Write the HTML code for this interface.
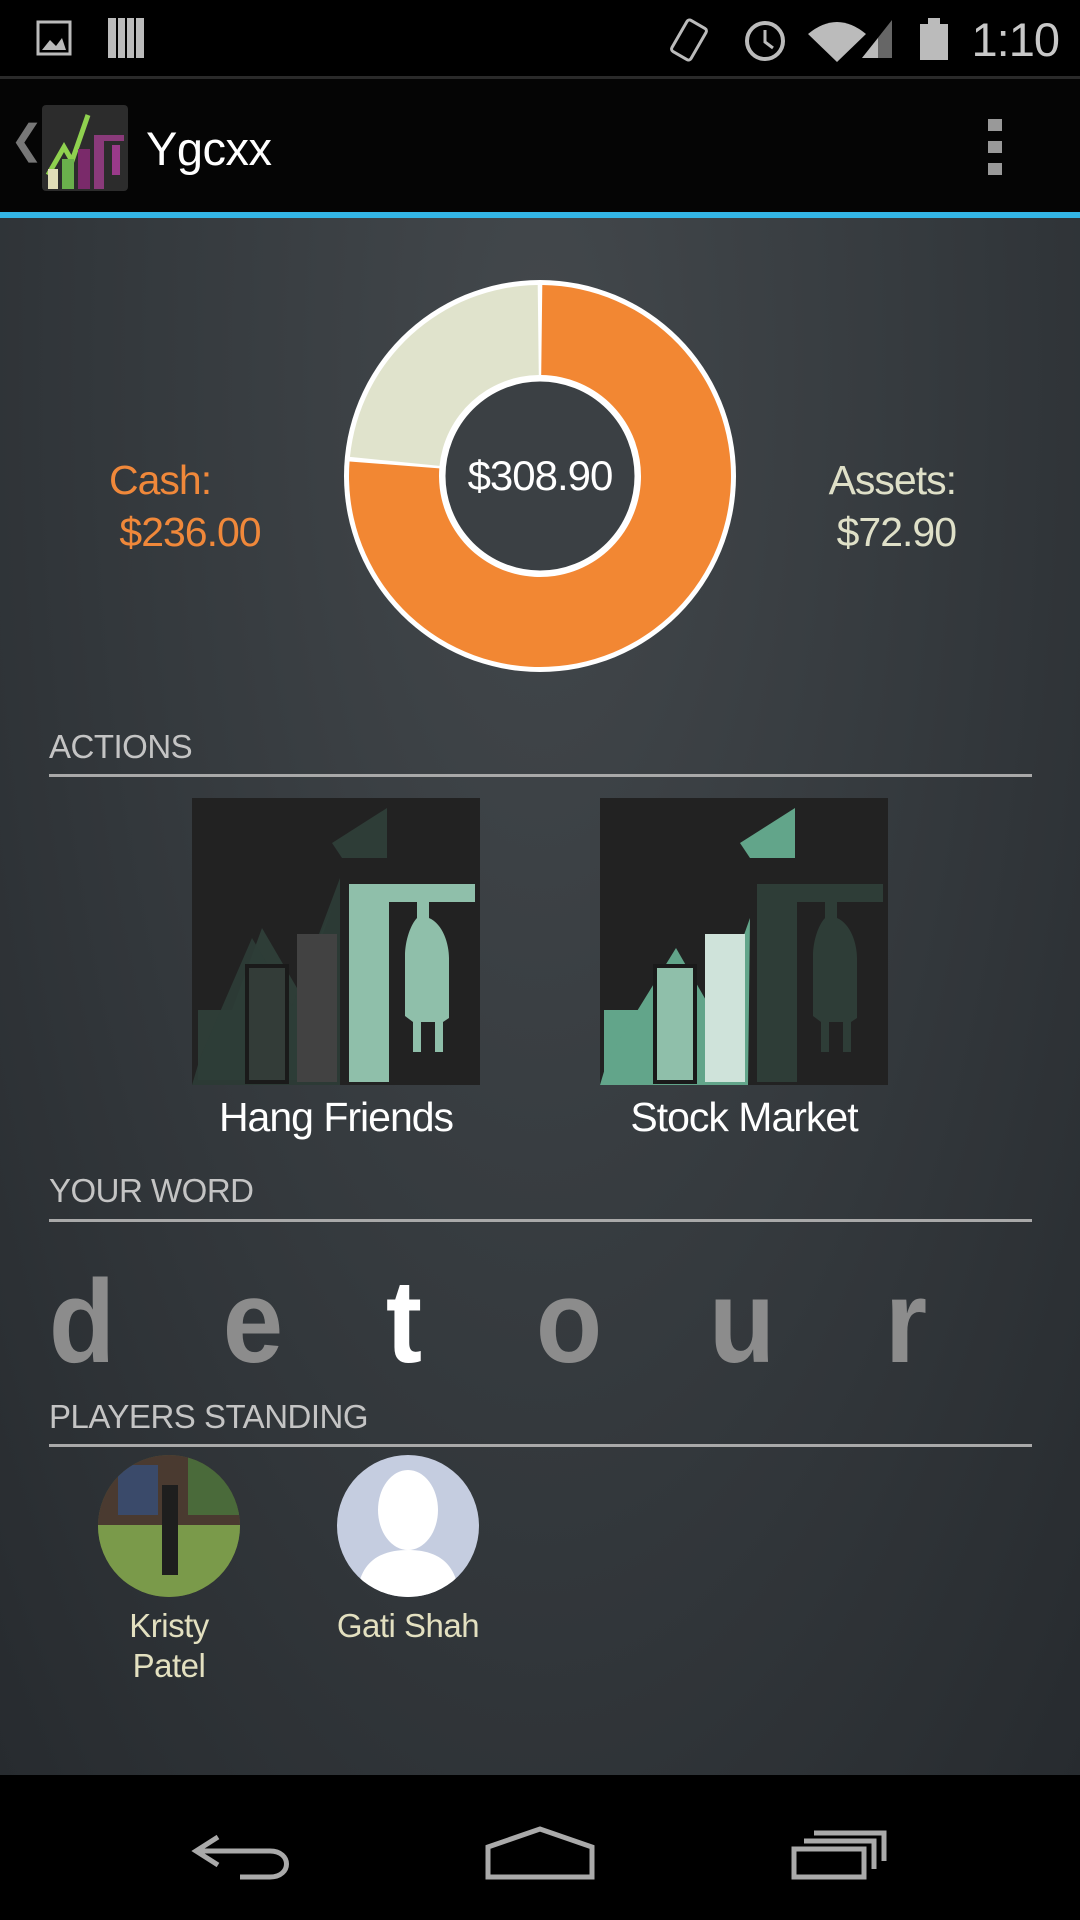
<!DOCTYPE html>
<html><head><meta charset="utf-8">
<style>
html,body{margin:0;padding:0;}
body{width:1080px;height:1920px;position:relative;overflow:hidden;background:#000;font-family:"Liberation Sans",sans-serif;}
.abs{position:absolute;}
#content{left:0;top:218px;width:1080px;height:1557px;background:radial-gradient(ellipse at 50% 10%,#43484c 0%,#353a3e 50%,#272b2f 100%);}
.sec{position:absolute;left:49px;font-size:33px;color:#c4c4c4;letter-spacing:-0.5px;}
.rule{position:absolute;left:49px;width:983px;height:3px;background:#a9a9a9;}
.letter{position:absolute;top:1262px;font-size:118px;font-weight:bold;color:#8c8c8c;transform:translateX(-50%) scaleX(0.92);line-height:120px;}
.name{position:absolute;font-size:33px;color:#e3e0c0;text-align:center;width:200px;transform:translateX(-50%);line-height:40px;letter-spacing:-0.5px;}
</style></head>
<body>
<div class="abs" style="left:0;top:0;width:1080px;height:76px;background:#000;">
  <svg class="abs" style="left:0;top:0" width="1080" height="76">
    <rect x="38" y="22" width="32" height="32" fill="none" stroke="#bbb" stroke-width="3"/>
    <path d="M42 50 L50 40 L56 46 L62 38 L66 50Z" fill="#bbb"/>
    <rect x="108" y="18" width="36" height="40" fill="#bbb"/>
    <g stroke="#000" stroke-width="2"><line x1="117" y1="18" x2="117" y2="58"/><line x1="126" y1="18" x2="126" y2="58"/><line x1="135" y1="18" x2="135" y2="58"/></g>
    <rect x="678" y="22" width="22" height="36" rx="3" fill="none" stroke="#bbb" stroke-width="3" transform="rotate(30 689 40)"/>
    <circle cx="765" cy="41" r="18" fill="none" stroke="#bbb" stroke-width="4"/>
    <path d="M765 30 V42 L773 48" stroke="#bbb" stroke-width="3" fill="none"/>
    <path d="M808 34 Q837 10 866 34 L837 62Z" fill="#bbb"/>
    <path d="M862 58 L892 20 L892 58Z" fill="#666"/>
    <path d="M862 58 L878 38 L878 58Z" fill="#bbb"/>
    <rect x="920" y="24" width="28" height="36" fill="#bbb"/><rect x="928" y="18" width="12" height="6" fill="#bbb"/>
  </svg>
  <div class="abs" style="right:21px;top:12px;font-size:47px;color:#c8c8c8;letter-spacing:-1px;">1:10</div>
</div>
<div class="abs" style="left:0;top:76px;width:1080px;height:3px;background:#2a2a2a;"></div>
<div class="abs" style="left:0;top:79px;width:1080px;height:133px;background:#050505;">
  <div class="abs" style="left:10px;top:38px;font-size:40px;color:#777;">❮</div>
  <svg class="abs" style="left:42px;top:26px" width="86" height="86">
    <rect x="0" y="0" width="86" height="86" rx="4" fill="#2c2c2c"/>
    <path d="M6 70 L22 42 L30 56 L46 10" stroke="#8fd14f" stroke-width="5" fill="none"/>
    <rect x="6" y="64" width="10" height="20" fill="#e0ddb8"/><rect x="20" y="54" width="12" height="30" fill="#6ab04c"/>
    <rect x="36" y="44" width="12" height="40" fill="#7a2a6a"/><rect x="52" y="34" width="10" height="50" fill="#8a3a7a"/>
    <rect x="52" y="30" width="30" height="6" fill="#8a3a7a"/><path d="M70 40 h8 v30 h-8z" fill="#9a3a8a"/>
  </svg>
  <div class="abs" style="left:146px;top:42px;font-size:47px;color:#fff;letter-spacing:-0.5px;">Ygcxx</div>
  <div class="abs" style="left:988px;top:40px;width:16px;height:56px;">
    <div class="abs" style="left:0;top:0;width:14px;height:12px;background:#999"></div>
    <div class="abs" style="left:0;top:22px;width:14px;height:12px;background:#999"></div>
    <div class="abs" style="left:0;top:44px;width:14px;height:12px;background:#999"></div>
  </div>
</div>
<div class="abs" style="left:0;top:212px;width:1080px;height:6px;background:#33b5e5;"></div>
<div class="abs" id="content"></div>

<svg class="abs" id="donut" style="left:0;top:218px" width="1080" height="520"></svg>
<div class="abs" style="left:109px;top:454px;font-size:41px;color:#f0883a;line-height:52px;letter-spacing:-1px;">Cash:<br>&nbsp;$236.00</div>
<div class="abs" style="right:124px;top:454px;font-size:41px;color:#dfe0c8;line-height:52px;text-align:right;letter-spacing:-1px;">Assets:<br>$72.90</div>
<div class="abs" style="left:440px;top:452px;width:200px;text-align:center;font-size:42px;color:#fff;letter-spacing:-1px;">$308.90</div>

<div class="sec" style="top:728px;">ACTIONS</div>
<div class="rule" style="top:774px;"></div>

<svg class="abs" style="left:192px;top:798px" width="288" height="287" viewBox="0 0 288 287">
  <rect width="288" height="287" fill="#222"/>
  <path d="M6 282 L6 212 L40 212 L70 130 L105 190 L140 110 L115 180 L105 282Z" fill="#2e3d37"/>
  <path d="M0 287 L8 260 L60 140 L100 208 L148 80 L148 287Z" fill="#2e3d37" opacity="0.9"/>
  <rect x="55" y="168" width="40" height="116" fill="#333c38" stroke="#1a1a1a" stroke-width="4"/>
  <rect x="105" y="136" width="40" height="148" fill="#424242"/>
  <path d="M195 10 L195 60 L150 60 L140 45Z" fill="#2e3d37"/>
  <rect x="157" y="96" width="40" height="188" fill="#8fbfaa"/>
  <rect x="157" y="86" width="126" height="18" fill="#8fbfaa"/>
  <path d="M225 104 h12 v16 c14 6 20 26 20 40 v60 l-6 4 v30 h-8 v-30 h-14 v30 h-8 v-30 l-8 -6 v-60 c0 -16 6 -32 12 -38z" fill="#8fbfaa"/>
</svg>
<svg class="abs" style="left:600px;top:798px" width="288" height="287" viewBox="0 0 288 287">
  <rect width="288" height="287" fill="#222"/>
  <rect x="4" y="212" width="36" height="72" fill="#62a58a"/>
  <path d="M0 287 L8 260 L76 150 L115 218 L150 120 L148 287Z" fill="#62a58a"/>
  <rect x="55" y="168" width="40" height="116" fill="#8fbfaa" stroke="#1a1a1a" stroke-width="4"/>
  <rect x="105" y="136" width="40" height="148" fill="#cfe3da"/>
  <path d="M195 10 L195 60 L150 60 L140 45Z" fill="#62a58a"/>
  <rect x="157" y="96" width="40" height="188" fill="#2e3d37"/>
  <rect x="157" y="86" width="126" height="18" fill="#2e3d37"/>
  <path d="M225 104 h12 v16 c14 6 20 26 20 40 v60 l-6 4 v30 h-8 v-30 h-14 v30 h-8 v-30 l-8 -6 v-60 c0 -16 6 -32 12 -38z" fill="#2e3d37"/>
</svg>
<div class="abs" style="left:186px;top:1094px;width:300px;text-align:center;font-size:41px;color:#fff;letter-spacing:-1px;">Hang Friends</div>
<div class="abs" style="left:594px;top:1094px;width:300px;text-align:center;font-size:41px;color:#fff;letter-spacing:-1px;">Stock Market</div>

<div class="sec" style="top:1172px;">YOUR WORD</div>
<div class="rule" style="top:1219px;"></div>
<div class="letter" style="left:82px;">d</div>
<div class="letter" style="left:253px;">e</div>
<div class="letter" style="left:404px;color:#fff;">t</div>
<div class="letter" style="left:569px;">o</div>
<div class="letter" style="left:742px;">u</div>
<div class="letter" style="left:906px;">r</div>

<div class="sec" style="top:1398px;">PLAYERS STANDING</div>
<div class="rule" style="top:1444px;"></div>
<svg class="abs" style="left:98px;top:1455px" width="142" height="142">
  <defs><clipPath id="c1"><circle cx="71" cy="71" r="71"/></clipPath></defs>
  <g clip-path="url(#c1)">
    <rect width="142" height="142" fill="#5a6a3a"/>
    <rect width="142" height="70" fill="#4a3a30"/>
    <rect x="20" y="10" width="40" height="50" fill="#3a4a6a"/>
    <rect x="90" y="0" width="52" height="60" fill="#4a6a3a"/>
    <rect x="0" y="70" width="142" height="72" fill="#7a9a4a"/>
    <rect x="64" y="30" width="16" height="90" fill="#1e1e1e"/>
  </g>
</svg>
<svg class="abs" style="left:337px;top:1455px" width="142" height="142">
  <defs><clipPath id="c2"><circle cx="71" cy="71" r="71"/></clipPath></defs>
  <g clip-path="url(#c2)">
    <rect width="142" height="142" fill="#c5cde0"/>
    <ellipse cx="71" cy="55" rx="30" ry="40" fill="#fff"/>
    <path d="M20 142 C22 105 45 95 71 95 C97 95 120 105 122 142Z" fill="#fff"/>
  </g>
</svg>
<div class="name" style="left:169px;top:1606px;">Kristy<br>Patel</div>
<div class="name" style="left:408px;top:1606px;">Gati Shah</div>

<div class="abs" style="left:0;top:1775px;width:1080px;height:145px;background:#000;">
  <svg class="abs" style="left:0;top:0" width="1080" height="145">
    <path d="M218 62 L196 76 L218 90 M198 76 H270 C292 76 292 102 270 102 H240" stroke="#aaa" stroke-width="5" fill="none"/>
    <path d="M488 72 L540 54 L592 72 V102 H488Z" stroke="#aaa" stroke-width="5" fill="none"/>
    <g stroke="#aaa" stroke-width="5" fill="none">
      <rect x="794" y="74" width="70" height="28"/><path d="M804 66 H874 V94"/><path d="M814 58 H884 V86"/>
    </g>
  </svg>
</div>

<script>
const segLabels = ["Cash","Assets"];
const segValues = [236.00, 72.90];
const segColors = ["#f28733","#e0e3cc"];
(function(){
  const svg=document.getElementById('donut');
  const ns='http://www.w3.org/2000/svg';
  const cx=540, cy=258, R=196, r=97;
  const total=segValues.reduce((a,b)=>a+b,0);
  const bg=document.createElementNS(ns,'circle');
  bg.setAttribute('cx',cx);bg.setAttribute('cy',cy);bg.setAttribute('r',R);bg.setAttribute('fill','#fff');
  
  
  svg.appendChild(bg);
  let a0=0;
  const Ro=R-5, ri=r+4;
  function pt(rad,a){return [cx+rad*Math.sin(a), cy-rad*Math.cos(a)];}
  segValues.forEach((v,i)=>{
    const a1=a0+v/total*2*Math.PI;
    const gap=0.012;
    const s=a0+gap, e=a1-gap;
    const large=(e-s)>Math.PI?1:0;
    const p1=pt(Ro,s),p2=pt(Ro,e),p3=pt(ri,e),p4=pt(ri,s);
    const p=document.createElementNS(ns,'path');
    p.setAttribute('d',`M${p1[0]} ${p1[1]} A${Ro} ${Ro} 0 ${large} 1 ${p2[0]} ${p2[1]} L${p3[0]} ${p3[1]} A${ri} ${ri} 0 ${large} 0 ${p4[0]} ${p4[1]}Z`);
    p.setAttribute('fill',segColors[i]);
    
    
    svg.appendChild(p);
    a0=a1;
  });
  const hole=document.createElementNS(ns,'circle');
  hole.setAttribute('cx',cx);hole.setAttribute('cy',cy);hole.setAttribute('r',r);hole.setAttribute('fill','#3b4044');hole.setAttribute('stroke','#fff');hole.setAttribute('stroke-width','5');
  
  
  svg.appendChild(hole);
})();
</script>
</body></html>
